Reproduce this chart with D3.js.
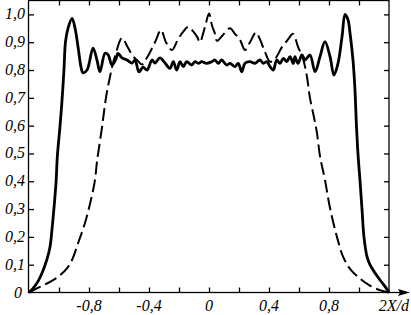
<!DOCTYPE html>
<html>
<head>
<meta charset="utf-8">
<script src="https://cdn.jsdelivr.net/npm/d3@7"></script>
<style>
  body { margin: 0; background: #fff; }
  text { font-family: "Liberation Serif", "Times New Roman", serif; font-style: italic; font-size: 16px; fill: #000; }
</style>
</head>
<body>
<script>
// solid curve (x = 2X/d, y = relative value)
var solidX = [-1.2, -1.173, -1.14, -1.113, -1.08, -1.06, -1.047, -1.033, -1.02, -1.011, -0.993, -0.98, -0.967, -0.957, -0.94,
  -0.913, -0.893, -0.873, -0.853, -0.84, -0.813, -0.773, -0.747, -0.727, -0.693, -0.673, -0.647, -0.62, -0.607, -0.58,
  -0.547, -0.513, -0.493, -0.467, -0.44, -0.413, -0.38, -0.36, -0.327, -0.293, -0.26, -0.238, -0.216, -0.193, -0.171,
  -0.149, -0.116, -0.093, -0.071, -0.049, -0.016, 0.018, 0.04, 0.062, 0.084, 0.118, 0.14, 0.173, 0.195, 0.218, 0.24,
  0.273, 0.307, 0.34, 0.362, 0.385, 0.407, 0.429, 0.451, 0.473, 0.496, 0.518, 0.54, 0.562, 0.573, 0.593, 0.62, 0.64,
  0.673, 0.707, 0.74, 0.773, 0.807, 0.833, 0.86, 0.887, 0.907, 0.927, 0.94, 0.96, 0.973, 0.983, 0.993, 1.007, 1.02,
  1.033, 1.053, 1.073, 1.107, 1.14, 1.173, 1.2];
var solidY = [0, 0.015, 0.04, 0.07, 0.12, 0.164, 0.225, 0.307, 0.393, 0.49, 0.6, 0.69, 0.8, 0.9, 0.95,
  0.986, 0.95, 0.883, 0.81, 0.79, 0.8, 0.879, 0.836, 0.794, 0.86, 0.855, 0.818, 0.84, 0.86, 0.844,
  0.836, 0.825, 0.836, 0.793, 0.81, 0.8, 0.836, 0.825, 0.844, 0.825, 0.806, 0.83, 0.8, 0.83, 0.812,
  0.83, 0.818, 0.83, 0.824, 0.83, 0.824, 0.83, 0.836, 0.824, 0.836, 0.818, 0.824, 0.812, 0.824, 0.794, 0.824,
  0.83, 0.824, 0.836, 0.824, 0.83, 0.812, 0.8, 0.836, 0.824, 0.842, 0.83, 0.848, 0.824, 0.848, 0.824, 0.854, 0.836,
  0.854, 0.794, 0.848, 0.902, 0.848, 0.782, 0.824, 0.92, 1.0, 0.98, 0.933, 0.836, 0.73, 0.6, 0.5, 0.4, 0.3,
  0.2, 0.13, 0.1, 0.07, 0.045, 0.022, 0];

// dashed curve
var dashX = [-1.2, -1.127, -1.06, -1.007, -0.947, -0.913, -0.873, -0.827, -0.787, -0.76, -0.747, -0.713, -0.687, -0.66,
  -0.64, -0.627, -0.58, -0.54, -0.507, -0.48, -0.447, -0.413, -0.36, -0.32, -0.287, -0.247, -0.207, -0.173, -0.14,
  -0.107, -0.08, -0.06, -0.04, -0.02, 0, 0.02, 0.04, 0.053, 0.093, 0.14, 0.173, 0.207, 0.24, 0.273, 0.313, 0.34,
  0.373, 0.407, 0.44, 0.487, 0.527, 0.56, 0.593, 0.627, 0.653, 0.673, 0.7, 0.72, 0.74, 0.773, 0.807, 0.853, 0.893,
  0.94, 1.007, 1.073, 1.14, 1.2];
var dashY = [0, 0.02, 0.038, 0.056, 0.087, 0.117, 0.177, 0.25, 0.333, 0.405, 0.47, 0.595, 0.7, 0.776,
  0.825, 0.848, 0.915, 0.88, 0.85, 0.836, 0.82, 0.845, 0.9, 0.944, 0.9, 0.872, 0.91, 0.937, 0.955,
  0.94, 0.92, 0.9, 0.93, 0.97, 1.003, 0.96, 0.93, 0.905, 0.926, 0.95, 0.93, 0.908, 0.872, 0.9, 0.935, 0.91,
  0.865, 0.83, 0.84, 0.883, 0.91, 0.93, 0.884, 0.84, 0.776, 0.7, 0.63, 0.573, 0.49, 0.405, 0.303, 0.2, 0.13,
  0.085, 0.05, 0.025, 0.008, 0];

var xTicks = [-1.0, -0.8, -0.6, -0.4, -0.2, 0, 0.2, 0.4, 0.6, 0.8, 1.0];
var xLabels = [-0.8, -0.4, 0, 0.4, 0.8];
var yTicks = [0, 0.1, 0.2, 0.3, 0.4, 0.5, 0.6, 0.7, 0.8, 0.9, 1.0];
var xTitle = "2X/d";

var w = 411;
var h = 315;

var xScale = d3.scaleLinear().domain([-1.2, 1.2]).range([29, 389]);
var yScale = d3.scaleLinear().domain([0, 1.05]).range([292.5, 0.5]);

// decimal comma, plain "0" at zero
var fmt = function(v) { return v === 0 ? "0" : d3.format(".1f")(v).replace(".", ",").replace("\u2212", "-"); };

var svg = d3.select("body").append("svg")
    .attr("width", w)
    .attr("height", h);

// frame
svg.append("rect")
    .attr("x", xScale(-1.2) - 0.5)
    .attr("y", yScale(1.05))
    .attr("width", xScale(1.2) - xScale(-1.2) + 0.5)
    .attr("height", yScale(0) - yScale(1.05))
    .attr("fill", "none")
    .attr("stroke", "#000")
    .attr("stroke-width", 1.3);

// axes with inward ticks
svg.append("g")
    .attr("transform", "translate(0," + yScale(0) + ")")
    .call(d3.axisTop(xScale).tickValues(xTicks).tickSize(5).tickFormat(""));
svg.append("g")
    .attr("transform", "translate(0," + yScale(1.05) + ")")
    .call(d3.axisBottom(xScale).tickValues(xTicks).tickSize(5).tickFormat(""));
svg.append("g")
    .attr("transform", "translate(" + xScale(-1.2) + ",0)")
    .call(d3.axisRight(yScale).tickValues(yTicks.slice(1)).tickSize(5).tickFormat(""));
svg.append("g")
    .attr("transform", "translate(" + xScale(1.2) + ",0)")
    .call(d3.axisLeft(yScale).tickValues(yTicks.slice(1)).tickSize(5).tickFormat(""));
svg.selectAll(".domain").remove();
svg.selectAll(".tick line").attr("stroke", "#000").attr("stroke-width", 1.3);

// x axis arrow
svg.append("line")
    .attr("x1", xScale(1.2)).attr("x2", 406)
    .attr("y1", yScale(0)).attr("y2", yScale(0))
    .attr("stroke", "#000").attr("stroke-width", 1.3);
svg.append("path")
    .attr("d", "M410," + yScale(0) + " L398," + (yScale(0) - 3.5) + " L400," + yScale(0) + " L398," + (yScale(0) + 3.5) + " Z")
    .attr("fill", "#000");

// tick labels
svg.selectAll(".xlab")
    .data(xLabels)
    .enter()
    .append("text")
    .attr("class", "xlab")
    .attr("x", d => xScale(d))
    .attr("y", 311)
    .attr("text-anchor", "middle")
    .text(fmt);

svg.selectAll(".ylab")
    .data(yTicks)
    .enter()
    .append("text")
    .attr("class", "ylab")
    .attr("x", d => d === 0 ? 22 : 25)
    .attr("y", d => yScale(d) + 5)
    .attr("text-anchor", "end")
    .text(fmt);

svg.append("text")
    .attr("x", 409)
    .attr("y", 311)
    .attr("text-anchor", "end")
    .text(xTitle);

// curves
var line = d3.line()
    .x(d => xScale(d[0]))
    .y(d => yScale(d[1]))
    .curve(d3.curveCatmullRom.alpha(0.5));

svg.append("path")
    .datum(dashX.map((x, i) => [x, dashY[i]]))
    .attr("d", line)
    .attr("fill", "none")
    .attr("stroke", "#000")
    .attr("stroke-width", 2)
    .attr("stroke-dasharray", "13,5");

svg.append("path")
    .datum(solidX.map((x, i) => [x, solidY[i]]))
    .attr("d", line)
    .attr("fill", "none")
    .attr("stroke", "#000")
    .attr("stroke-width", 2.8)
    .attr("stroke-linejoin", "round");
</script>
</body>
</html>
